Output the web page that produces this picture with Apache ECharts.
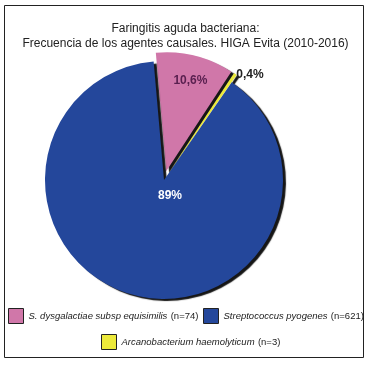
<!DOCTYPE html>
<html>
<head>
<meta charset="utf-8">
<script src="https://cdn.jsdelivr.net/npm/echarts@6/dist/echarts.min.js"></script>
<style>html,body{margin:0;padding:0;background:#fff}#c{width:371px;height:365px}</style>
</head>
<body>
<div id="c"></div>
<script>
const names = ['S. dysgalactiae subsp equisimilis', 'Arcanobacterium haemolyticum', 'Streptococcus pyogenes'];
const counts = [74, 3, 621];
const pctLabels = ['10,6%', '0,4%', '89%'];
const colors = ['#d077a9', '#ece93a', '#24479b'];
const titleLines = ['Faringitis aguda bacteriana:', 'Frecuencia de los agentes causales. HIGA Evita (2010-2016)'];

const chart = echarts.init(document.getElementById('c'), null, {renderer: 'canvas'});
const labelColors = ['#5a2050', '#222', '#fff'];
const labelShift = [[9, -30], [46, -46], [22, -45]];

const legendFormatter = function (name) {
  const i = names.indexOf(name);
  return '{i|' + name + '} {n|(n=' + counts[i] + ')}';
};
const legendRich = {
  i: {fontStyle: 'italic', fontSize: 9.5, color: '#222', fontFamily: 'Liberation Sans'},
  n: {fontSize: 9.5, color: '#222', fontFamily: 'Liberation Sans'}
};
const legendCommon = {
  orient: 'horizontal', itemWidth: 15, itemHeight: 15, itemGap: 6, icon: 'rect',
  formatter: legendFormatter, selectedMode: false, padding: 0,
  itemStyle: {borderColor: '#222', borderWidth: 1},
  textStyle: {rich: legendRich}
};

chart.setOption({
  animation: false,
  title: {
    text: titleLines.join('\n'), left: 'center', top: 16,
    textStyle: {fontSize: 12, fontWeight: 'normal', color: '#222', fontFamily: 'Liberation Sans', lineHeight: 15}
  },
  graphic: [{type: 'rect', shape: {x: 4.5, y: 5.5, width: 359, height: 352}, style: {fill: 'none', stroke: '#222', lineWidth: 1}, silent: true}],
  legend: [
    Object.assign({}, legendCommon, {data: [names[0]], left: 8, top: 308}),
    Object.assign({}, legendCommon, {data: [names[2]], left: 203, top: 308}),
    Object.assign({}, legendCommon, {data: [names[1]], left: 101, top: 334})
  ],
  series: [{
    type: 'pie',
    center: [164, 180],
    radius: 119,
    startAngle: 95,
    clockwise: true,
    selectedMode: 'multiple',
    selectedOffset: 9,
    avoidLabelOverlap: false,
    itemStyle: {shadowColor: 'rgba(10,10,10,0.95)', shadowBlur: 1, shadowOffsetX: 3, shadowOffsetY: 2},
    label: {
      show: true, position: 'inside', fontSize: 12, fontWeight: 'bold', fontFamily: 'Liberation Sans',
      formatter: p => pctLabels[p.dataIndex]
    },
    labelLine: {show: false},
    labelLayout: function (p) {
      return {dx: labelShift[p.dataIndex][0], dy: labelShift[p.dataIndex][1]};
    },
    emphasis: {disabled: true},
    data: names.map((n, i) => ({
      name: n, value: counts[i], selected: i < 2,
      itemStyle: {color: colors[i]},
      label: {color: labelColors[i]}
    }))
  }]
});
</script>
</body>
</html>
